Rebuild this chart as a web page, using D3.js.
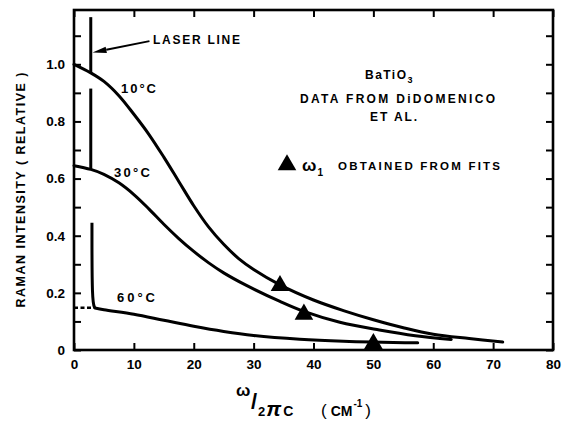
<!DOCTYPE html>
<html><head><meta charset="utf-8">
<script src="https://cdn.jsdelivr.net/npm/d3@7"></script>
<style>
body{margin:0;background:#fff}
svg{display:block}
text{font-family:"Liberation Sans",Arial,sans-serif;font-weight:bold;fill:#000}
</style>
</head><body>
<svg id="c" width="567" height="421"></svg>
<script>
// ---- data ----
const xTicks = [0,10,20,30,40,50,60,70,80];
const yTicks = [0,0.1,0.2,0.3,0.4,0.5,0.6,0.7,0.8,0.9,1.0,1.1];
const yTickLabels = [0,0.2,0.4,0.6,0.8,1.0];

const x10 = [0,2.8,5,7.5,10,12.5,15,17.5,20,22.5,25,27.5,30,34.4,40,45,50,55,60,66,71.6];
const y10 = [1.0,0.97,0.94,0.89,0.825,0.755,0.675,0.59,0.505,0.43,0.37,0.32,0.282,0.228,0.175,0.138,0.106,0.078,0.055,0.04,0.028];

const x30 = [0,2.8,5,7.5,10,12.5,15,17.5,20,22.5,25,28.8,34.4,38.4,44.4,51,57,63];
const y30 = [0.645,0.632,0.615,0.585,0.544,0.494,0.44,0.39,0.345,0.305,0.27,0.226,0.17,0.135,0.097,0.07,0.05,0.037];

const x60 = [3.5,5,10,15,20,25,30,37.7,45,57.4];
const y60 = [0.147,0.141,0.125,0.104,0.083,0.065,0.051,0.038,0.031,0.025];
const x60dash = [0,3.2];
const y60dash = [0.148,0.148];

// laser line spikes
const laserX = [2.8,2.8,3.0];
const laserTop = [1.165,0.915,0.445];
const laserBottom = [0.97,0.632,0.165];

// omega_1 from fits
const triX = [34.4,38.4,50];
const triY = [0.225,0.125,0.022];

// arrow for laser line label (data coords)
const arrowX = [12.6,3.1];
const arrowY = [1.081,1.041];

// ---- chart ----
const svg = d3.select("#c");
const x = d3.scaleLinear().domain([0,80]).range([74,553]);
const y = d3.scaleLinear().domain([0,1.19]).range([350,10]);

const fmt = d => d===0 ? "0" : (yTickLabels.some(v=>Math.abs(v-d)<1e-9) ? d.toFixed(1) : "");

const tickLen = 7;
const gB = svg.append("g").attr("transform",`translate(0,${y(0)})`)
  .call(d3.axisBottom(x).tickValues(xTicks).tickSizeInner(-tickLen).tickSizeOuter(0).tickPadding(9).tickFormat(d3.format("d")));
const gT = svg.append("g").attr("transform",`translate(0,${y.range()[1]})`)
  .call(d3.axisTop(x).tickValues(xTicks).tickSizeInner(-tickLen).tickSizeOuter(0).tickFormat(""));
const gL = svg.append("g").attr("transform",`translate(${x(0)},0)`)
  .call(d3.axisLeft(y).tickValues(yTicks).tickSizeInner(-tickLen).tickSizeOuter(0).tickPadding(9).tickFormat(fmt));
const gR = svg.append("g").attr("transform",`translate(${x(80)},0)`)
  .call(d3.axisRight(y).tickValues(yTicks).tickSizeInner(-tickLen).tickSizeOuter(0).tickFormat(""));
[gB,gT,gL,gR].forEach(g=>{
  g.select(".domain").remove();
  g.selectAll(".tick line").attr("stroke","#000").attr("stroke-width",2);
  g.selectAll(".tick text").attr("font-size",13.5).attr("font-family",'"Liberation Sans",Arial,sans-serif').attr("font-weight","bold").attr("fill","#000");
});

// frame
svg.append("rect")
  .attr("x",x(0)).attr("y",y.range()[1])
  .attr("width",x(80)-x(0)).attr("height",y(0)-y.range()[1])
  .attr("fill","none").attr("stroke","#000").attr("stroke-width",2.6);

// curves
const line = d3.line().x(d=>x(d[0])).y(d=>y(d[1])).curve(d3.curveCatmullRom.alpha(0.5));
const series = [[x10,y10],[x30,y30],[x60,y60]];
series.forEach(([xs,ys])=>{
  svg.append("path").datum(xs.map((v,i)=>[v,ys[i]]))
    .attr("d",line).attr("fill","none").attr("stroke","#000")
    .attr("stroke-width",3).attr("stroke-linecap","round").attr("stroke-linejoin","round");
});
svg.append("path").datum(x60dash.map((v,i)=>[v,y60dash[i]]))
  .attr("d",d3.line().x(d=>x(d[0])).y(d=>y(d[1])))
  .attr("fill","none").attr("stroke","#000").attr("stroke-width",2.4).attr("stroke-dasharray","4,2.5");

// laser spikes
laserX.forEach((lx,i)=>{
  const pts = i===2
    ? [[lx,laserTop[i]],[lx,laserBottom[i]],[x60[0],y60[0]]]
    : [[lx,laserTop[i]],[lx,laserBottom[i]]];
  svg.append("path").datum(pts)
    .attr("d",d3.line().x(d=>x(d[0])).y(d=>y(d[1])).curve(d3.curveBasis))
    .attr("fill","none").attr("stroke","#000").attr("stroke-width",3).attr("stroke-linecap","butt");
});

// arrow
{
  const x1=x(arrowX[0]), y1=y(arrowY[0]), x2=x(arrowX[1]), y2=y(arrowY[1]);
  const dx=x2-x1, dy=y2-y1, L=Math.hypot(dx,dy), ux=dx/L, uy=dy/L;
  const hl=14, hw=3.2;
  const bx=x2-ux*hl, by=y2-uy*hl;
  svg.append("line").attr("x1",x1).attr("y1",y1).attr("x2",bx).attr("y2",by)
    .attr("stroke","#000").attr("stroke-width",2);
  svg.append("path").attr("d",`M${x2},${y2}L${bx-uy*hw},${by+ux*hw}L${bx+uy*hw},${by-ux*hw}Z`).attr("fill","#000");
}

// triangles
const tri = d3.symbol().type(d3.symbolTriangle).size(150);
triX.forEach((tx,i)=>{
  svg.append("path").attr("d",tri()).attr("transform",`translate(${x(tx)},${y(triY[i])})`).attr("fill","#000");
});

// text helper
function txt(str,px,py,size,len,anchor){
  const t = svg.append("text").attr("x",px).attr("y",py).attr("font-size",size).text(str);
  if(len) t.attr("textLength",len).attr("lengthAdjust","spacing");
  if(anchor) t.attr("text-anchor",anchor);
  return t;
}

txt("LASER LINE",153,44,12,87);
txt("10°C",121,93,13,35);
txt("30°C",114,177,13,36);
txt("60°C",117,302,13,38);

// BaTiO3
{
  const t = svg.append("text").attr("x",365).attr("y",79).attr("font-size",12);
  t.append("tspan").text("BaTiO").attr("textLength",41).attr("lengthAdjust","spacing");
  t.append("tspan").text("3").attr("font-size",9).attr("dy",4);
}
txt("DATA FROM DiDOMENICO",300,103,12,195);
txt("ET AL.",370,121,12,47);

// legend
svg.append("path").attr("d",tri()).attr("transform","translate(287,165)").attr("fill","#000");
{
  const t = svg.append("text").attr("x",302).attr("y",171).attr("font-size",17);
  t.append("tspan").text("ω");
  t.append("tspan").text("1").attr("font-size",10).attr("dy",5).attr("dx",1);
}
txt("OBTAINED FROM FITS",338,170,11.5,162);

// y axis label
svg.append("text").attr("transform","translate(25,190) rotate(-90)")
  .attr("text-anchor","middle").attr("font-size",12.5)
  .attr("textLength",235).attr("lengthAdjust","spacing")
  .text("RAMAN INTENSITY ( RELATIVE )");

// x axis label
{
  svg.append("text").attr("x",236).attr("y",396).attr("font-size",17).text("ω");
  svg.append("text").attr("x",251).attr("y",409).attr("font-size",22).attr("font-weight","normal").text("/");
  const t2 = svg.append("text").attr("x",258).attr("y",416).attr("font-size",13);
  t2.append("tspan").text("2");
  t2.append("tspan").text("π").attr("font-size",21).attr("font-style","italic").attr("dx",1);
  t2.append("tspan").text("C").attr("font-size",14).attr("dx",2);
  const t3 = svg.append("text").attr("x",321).attr("y",416).attr("font-size",17);
  t3.append("tspan").text("(").attr("font-weight","normal");
  t3.append("tspan").text("CM").attr("font-size",14).attr("dx",4);
  t3.append("tspan").text("-1").attr("font-size",10).attr("dy",-9).attr("dx",1);
  t3.append("tspan").text(")").attr("font-weight","normal").attr("dy",9).attr("dx",3);
}
</script>
</body></html>
